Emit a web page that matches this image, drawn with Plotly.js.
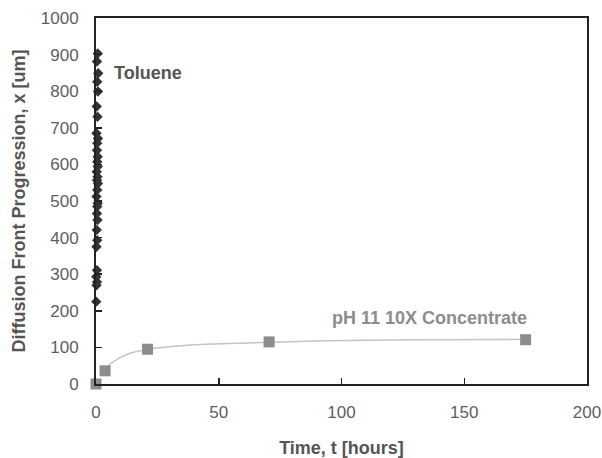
<!DOCTYPE html>
<html>
<head>
<meta charset="utf-8">
<script src="https://cdn.plot.ly/plotly-3.0.1.min.js"></script>
<style>html,body{margin:0;padding:0;background:#fff;}#chart{width:602px;height:458px;}</style>
</head>
<body>
<div id="chart"></div>
<script>
// Toluene: diffusion front (um) vs time (hours)
var tolueneT = [0.7, 0.4, 0.9, 0.5, 0.8, 0.3, 0.6, 0.2, 0.8, 0.5, 0.4, 0.7, 0.5, 0.7, 0.3, 0.6, 0.4, 0.8, 0.5, 0.2, 0.7, 0.5, 0.4, 0.6, 0.3, 0.5, 0.2, 0.4, 0.1, 0.4, 0.2, 0.1];
var tolueneX = [903, 881, 849, 826, 799, 758, 730, 685, 671, 658, 639, 621, 607, 594, 580, 566, 557, 548, 530, 512, 494, 485, 466, 448, 421, 393, 375, 311, 293, 279, 270, 225];
// pH 11 10X Concentrate: measured points
var phT = [0, 3.7, 21, 70.5, 175];
var phX = [0, 36, 95, 115, 121];
// pH 11 fitted trend line
var fitT = [3, 6, 13, 21, 32, 47, 71, 93, 128, 175];
var fitX = [36, 56, 82, 95, 103, 109, 114, 118, 121, 122];
var xTicks = [0, 50, 100, 150, 200];
var yTicks = [0, 100, 200, 300, 400, 500, 600, 700, 800, 900, 1000];

var font = 'Liberation Sans, Arial, sans-serif';
var traces = [
  {x: fitT, y: fitX, mode: 'lines', line: {color: '#c4c4c4', width: 1.5, shape: 'spline'}, hoverinfo: 'skip'},
  {x: phT, y: phX, mode: 'markers', marker: {symbol: 'square', size: 11, color: '#8c8c8c'}, cliponaxis: false},
  {x: tolueneT, y: tolueneX, mode: 'markers', marker: {symbol: 'diamond', size: 8, color: '#333333'}, cliponaxis: false}
];
var layout = {
  width: 602, height: 458,
  margin: {l: 96, r: 15, t: 18, b: 74},
  paper_bgcolor: '#fff', plot_bgcolor: '#fff',
  showlegend: false,
  font: {family: font, color: '#5a5a5a'},
  xaxis: {
    range: [0, 200], tickvals: xTicks, ticktext: xTicks.map(String),
    ticks: 'inside', ticklen: 6, tickwidth: 1.5, tickcolor: '#222',
    showline: true, linecolor: '#222', linewidth: 2, mirror: true,
    showgrid: false, zeroline: false,
    tickfont: {size: 17, color: '#5e5e5e'},
    ticklabelstandoff: 12,
    title: {text: '<b>Time, t [hours]</b>', font: {size: 18, color: '#555'}, standoff: 21}
  },
  yaxis: {
    range: [0, 1000], tickvals: yTicks, ticktext: yTicks.map(String),
    ticks: 'inside', ticklen: 6, tickwidth: 1.5, tickcolor: '#222',
    showline: true, linecolor: '#222', linewidth: 2, mirror: true,
    showgrid: false, zeroline: false,
    tickfont: {size: 17, color: '#5e5e5e'},
    ticklabelstandoff: 12,
    title: {text: '<b>Diffusion Front Progression, x [um]</b>', font: {size: 18, color: '#555'}, standoff: 10}
  },
  annotations: [
    {x: 6.5, y: 850, xref: 'x', yref: 'y', text: '<b>Toluene</b>', showarrow: false, xanchor: 'left', yanchor: 'middle', font: {size: 18, color: '#555'}},
    {x: 176.5, y: 180, xref: 'x', yref: 'y', text: '<b>pH 11 10X Concentrate</b>', showarrow: false, xanchor: 'right', yanchor: 'middle', font: {size: 18, color: '#8c8c8c'}}
  ]
};
Plotly.newPlot('chart', traces, layout, {displayModeBar: false, staticPlot: true});
</script>
</body>
</html>
